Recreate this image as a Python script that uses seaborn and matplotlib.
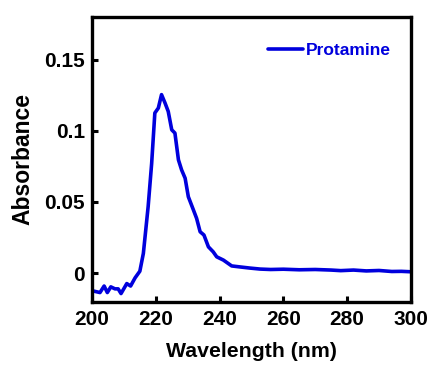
import numpy as np
import pandas as pd
import matplotlib
matplotlib.use("Agg")
import matplotlib.pyplot as plt
import seaborn as sns

wavelength = [200.4, 202.5, 203.8, 204.8, 205.9, 207.2, 208.2, 209.1, 210.9, 212.1,
              213.5, 215.0, 216.1, 217.6, 218.7, 219.7, 220.8, 221.8, 222.9, 223.9,
              225.0, 226.0, 227.1, 228.1, 229.2, 230.2, 231.8, 232.8, 233.9, 235.1,
              236.5, 238.0, 239.1, 241.2, 243.8, 246.4, 249.5, 252.7, 256.0, 260.0,
              265.0, 270.0, 275.0, 278.0, 282.0, 286.0, 290.0, 294.0, 297.0, 300.0]
absorbance = [-0.0125, -0.0136, -0.009, -0.0136, -0.0096, -0.011, -0.011, -0.0143, -0.0073, -0.009,
              -0.0033, 0.0014, 0.0139, 0.0467, 0.077, 0.1125, 0.116, 0.1254, 0.1195, 0.1136,
              0.1007, 0.0984, 0.0796, 0.0725, 0.0667, 0.0537, 0.0444, 0.0385, 0.0291, 0.0268,
              0.0185, 0.015, 0.0115, 0.0092, 0.0051, 0.0044, 0.0036, 0.0029, 0.0026, 0.0028,
              0.0024, 0.0026, 0.0022, 0.0018, 0.0022, 0.0016, 0.0019, 0.0012, 0.0013, 0.0010]
series = "Protamine"

df = pd.DataFrame({"Wavelength": wavelength, "Absorbance": absorbance, "Sample": series})

sns.set_style("white")
plt.rcParams['font.family'] = ['Liberation Sans', 'DejaVu Sans']
plt.rcParams['font.weight'] = 'bold'
plt.rcParams['text.color'] = 'black'
plt.rcParams['axes.labelcolor'] = 'black'
plt.rcParams['xtick.color'] = 'black'
plt.rcParams['ytick.color'] = 'black'

fig = plt.figure(figsize=(4.33, 3.67), dpi=100)
ax = fig.add_axes([0.2125, 0.178, 0.7365, 0.776])
sns.lineplot(data=df, x="Wavelength", y="Absorbance", hue="Sample",
             palette=["#0000dd"], linewidth=2.6, ax=ax, sort=False)

ax.set_xlim(200, 300)
ax.set_ylim(-0.02, 0.18)
ax.set_xticks([200, 220, 240, 260, 280, 300])
ax.set_xticklabels(["200", "220", "240", "260", "280", "300"])
ax.set_yticks([0, 0.05, 0.1, 0.15])
ax.set_yticklabels(["0", "0.05", "0.1", "0.15"])
ax.tick_params(direction="in", length=4, width=2.2, labelsize=15, left=True, bottom=True)
ax.tick_params(axis="x", pad=6)
ax.tick_params(axis="y", pad=5)
for lab in ax.get_xticklabels() + ax.get_yticklabels():
    lab.set_fontweight("bold")
for s in ax.spines.values():
    s.set_linewidth(2.4)
    s.set_color("black")
ax.set_xlabel("Wavelength (nm)", fontsize=15.3, fontweight="bold", labelpad=9)
ax.set_ylabel("Absorbance", fontsize=16.5, fontweight="bold", labelpad=7)

leg = ax.legend(loc="upper right", frameon=False, fontsize=12.5, handlelength=2.0,
                handletextpad=0.15, bbox_to_anchor=(0.985, 0.963))
for t in leg.get_texts():
    t.set_color("#0000dd")
    t.set_fontweight("bold")

fig.savefig("out.png", dpi=100)
